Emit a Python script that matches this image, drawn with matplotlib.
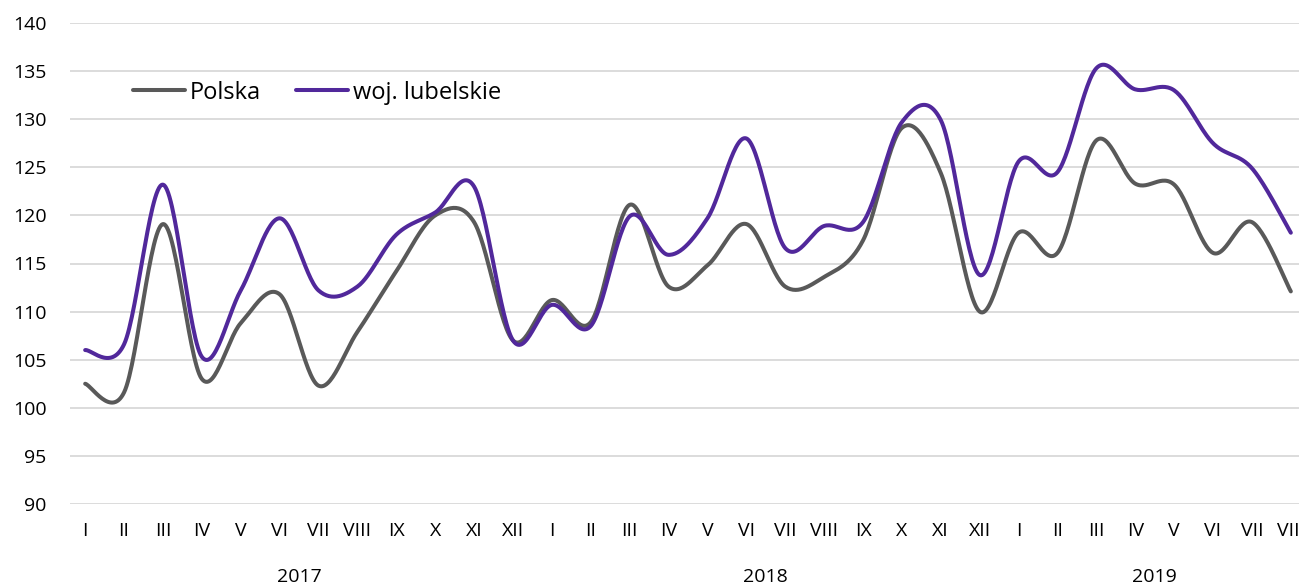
import numpy as np
import matplotlib
matplotlib.use("Agg")
import matplotlib.pyplot as plt
import matplotlib.transforms as mtransforms

plt.rcParams['font.family'] = ['Open Sans', 'DejaVu Sans']

months = ["I", "II", "III", "IV", "V", "VI", "VII", "VIII", "IX", "X", "XI", "XII",
          "I", "II", "III", "IV", "V", "VI", "VII", "VIII", "IX", "X", "XI", "XII",
          "I", "II", "III", "IV", "V", "VI", "VII", "VIII"]
years = ["2017", "2018", "2019"]
year_months = [12, 12, 8]

polska = [102.5, 101.6, 119.1, 103.0, 108.8, 111.8, 102.3, 107.9, 114.2, 120.0, 119.3, 107.0,
          111.2, 108.9, 121.1, 112.6, 114.8, 119.1, 112.6, 113.6, 117.4, 129.1, 124.4, 110.0,
          118.2, 116.1, 127.8, 123.3, 123.2, 116.1, 119.3, 112.1]
lubelskie = [106.0, 106.6, 123.2, 105.3, 112.2, 119.7, 112.2, 112.6, 118.0, 120.3, 123.0, 107.0,
             110.7, 108.5, 119.9, 115.9, 119.7, 128.0, 116.6, 118.9, 119.3, 129.7, 129.9, 113.8,
             125.6, 124.5, 135.3, 133.1, 133.0, 127.5, 124.9, 118.2]


def smooth(y, n=30):
    # Catmull-Rom curve through the points, like Excel's smoothed line
    y = np.asarray(y, dtype=float)
    x = np.arange(len(y), dtype=float)
    px = np.concatenate([[x[0]], x, [x[-1]]])
    py = np.concatenate([[y[0]], y, [y[-1]]])
    xs, ys = [], []
    t = np.linspace(0, 1, n, endpoint=False)
    for i in range(1, len(px) - 2):
        for p, out in ((px, xs), (py, ys)):
            p0, p1, p2, p3 = p[i - 1], p[i], p[i + 1], p[i + 2]
            m1 = (p2 - p0) / 2
            m2 = (p3 - p1) / 2
            h00 = 2 * t**3 - 3 * t**2 + 1
            h10 = t**3 - 2 * t**2 + t
            h01 = -2 * t**3 + 3 * t**2
            h11 = t**3 - t**2
            out.append(h00 * p1 + h10 * m1 + h01 * p2 + h11 * m2)
    xs.append([x[-1]])
    ys.append([y[-1]])
    return np.concatenate(xs), np.concatenate(ys)


fig = plt.figure(figsize=(12.99, 5.86), dpi=100)
ax = fig.add_axes([70 / 1299, 1 - 504 / 586, 1 - 70 / 1299, (504 - 23) / 586])

sx, sy = smooth(polska)
ax.plot(sx, sy, color="#595959", lw=2.9, solid_capstyle="round", label="Polska")
sx, sy = smooth(lubelskie)
ax.plot(sx, sy, color="#51289b", lw=2.9, solid_capstyle="round", label="woj. lubelskie")

ax.set_ylim(90, 140)
ax.set_yticks(range(90, 141, 5))
ax.set_xlim(-0.39, 31.21)
ax.set_xticks(range(len(months)))
ax.set_xticklabels(months)
ax.tick_params(axis="both", length=0, labelsize=14)
ax.tick_params(axis="y", pad=17)
ax.tick_params(axis="x", pad=13)
ax.grid(axis="y", color="#d9d9d9", lw=1.3)
ax.set_axisbelow(True)
for s in ax.spines.values():
    s.set_visible(False)

trans = mtransforms.blended_transform_factory(ax.transData, fig.transFigure)
start = 0
for yr, n in zip(years, year_months):
    ax.text(start + (n - 1) / 2, 1 - 577 / 586, yr, transform=trans,
            ha="center", va="center", fontsize=14)
    start += n

ax.legend(loc="center left", bbox_to_anchor=(0.051, 0.855), frameon=False,
          fontsize=17, ncol=2, handlelength=2.2, handletextpad=0.2,
          columnspacing=1.5, borderaxespad=0, borderpad=0)

fig.savefig("out.png", dpi=100)
